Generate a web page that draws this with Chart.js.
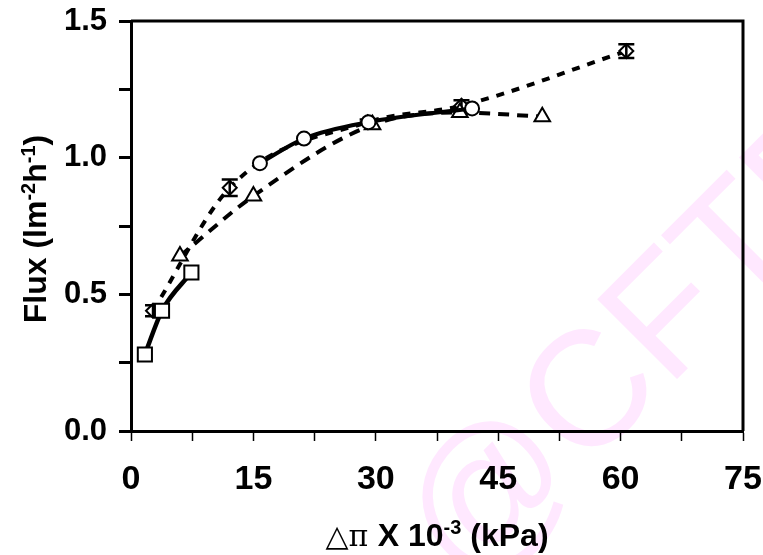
<!DOCTYPE html>
<html>
<head>
<meta charset="utf-8">
<script src="https://cdn.jsdelivr.net/npm/chart.js@4.4.0/dist/chart.umd.min.js"></script>
<style>
  html, body { margin: 0; padding: 0; background: #fff; }
</style>
</head>
<body>
<canvas id="flux" width="763" height="555"></canvas>
<script>
// flux vs osmotic pressure difference, four runs
const squareX = [1.7, 3.8, 7.4];
const squareY = [0.28, 0.44, 0.58];
const circleX = [15.8, 21.2, 29.1, 41.8];
const circleY = [0.98, 1.07, 1.13, 1.18];
const diamondX = [2.7, 12.1, 29.0, 40.5, 60.7];
const diamondY = [0.44, 0.89, 1.13, 1.19, 1.39];
const diamondErr = [0.02, 0.03, 0.01, 0.02, 0.025];
const triangleX = [6.0, 15.0, 29.6, 40.3, 50.4];
const triangleY = [0.64, 0.86, 1.12, 1.165, 1.15];

const xTicks = [0, 15, 30, 45, 60, 75];
const yTicks = [0.0, 0.5, 1.0, 1.5];

const BOLD = 'bold 32px "Liberation Sans", Arial, sans-serif';
const NARROW = '"Liberation Sans Narrow", "Liberation Sans", Arial, sans-serif';

function pts(xs, ys) {
  return xs.map((x, i) => ({ x: x, y: ys[i] }));
}

function series(xs, ys, style, radius, width, dash, order) {
  return {
    data: pts(xs, ys),
    order: order,
    showLine: true,
    cubicInterpolationMode: 'monotone',
    borderColor: '#000',
    borderWidth: width,
    borderDash: dash,
    pointStyle: style,
    pointRadius: radius,
    pointBorderWidth: 2,
    pointBorderColor: '#000',
    pointBackgroundColor: '#fff',
    clip: false
  };
}

// fixed axis box, no label overflow padding
function fixBox(w, h) {
  return s => {
    if (w) s.width = w;
    if (h) s.height = h;
    s.paddingLeft = s.paddingRight = s.paddingTop = s.paddingBottom = 0;
  };
}

// text made of pieces, some raised (superscripts)
function drawRuns(ctx, runs, cx, baseline) {
  let total = 0;
  runs.forEach(r => {
    ctx.font = r.font;
    r.w = ctx.measureText(r.text).width;
    total += r.w;
  });
  let x = cx - total / 2;
  runs.forEach(r => {
    ctx.font = r.font;
    ctx.fillText(r.text, x, baseline - (r.rise || 0));
    x += r.w;
  });
}

const watermark = {
  id: 'watermark',
  beforeDraw(chart) {
    const ctx = chart.ctx;
    ctx.save();
    ctx.translate(466, 590);
    ctx.rotate(-Math.PI / 4);
    ctx.fillStyle = '#ffe8ff';
    ctx.font = '164px "Liberation Sans", Arial, sans-serif';
    ctx.textBaseline = 'alphabetic';
    ctx.fillText('@CFTRI', 0, 0);
    ctx.restore();
  }
};

const frame = {
  id: 'frame',
  afterDraw(chart) {
    const { ctx, chartArea: a } = chart;
    ctx.save();
    ctx.strokeStyle = '#000';
    ctx.lineWidth = 3;
    ctx.beginPath();
    ctx.moveTo(a.left, a.top);
    ctx.lineTo(a.right, a.top);
    ctx.lineTo(a.right, a.bottom);
    ctx.stroke();
    ctx.restore();
  }
};

// error bars on the diamond run (dataset 2)
const errorBars = {
  id: 'errorBars',
  afterDatasetDraw(chart, args) {
    if (args.index !== 2) return;
    const ctx = chart.ctx;
    const xs = chart.scales.x, ys = chart.scales.y;
    ctx.save();
    ctx.strokeStyle = '#000';
    ctx.lineWidth = 2.5;
    diamondX.forEach((v, i) => {
      const px = xs.getPixelForValue(v);
      const top = ys.getPixelForValue(diamondY[i] + diamondErr[i]);
      const bot = ys.getPixelForValue(diamondY[i] - diamondErr[i]);
      ctx.beginPath();
      ctx.moveTo(px, top); ctx.lineTo(px, bot);
      ctx.moveTo(px - 8, top); ctx.lineTo(px + 8, top);
      ctx.moveTo(px - 8, bot); ctx.lineTo(px + 8, bot);
      ctx.stroke();
    });
    ctx.restore();
  }
};

const axisTitles = {
  id: 'axisTitles',
  afterDraw(chart) {
    const ctx = chart.ctx;
    ctx.save();
    ctx.fillStyle = '#000';
    ctx.textBaseline = 'alphabetic';
    const sup = 'bold 20px "Liberation Sans", Arial, sans-serif';
    ctx.translate(46, 229);
    ctx.rotate(-Math.PI / 2);
    drawRuns(ctx, [
      { text: 'Flux (lm', font: BOLD },
      { text: '-2', font: sup, rise: 11 },
      { text: 'h', font: BOLD },
      { text: '-1', font: sup, rise: 11 },
      { text: ')', font: BOLD }
    ], 0, 0);
    ctx.restore();

    ctx.save();
    ctx.fillStyle = '#000';
    drawRuns(ctx, [
      { text: '\u25B3', font: '30px "DejaVu Sans", sans-serif' },
      { text: '\u03C0 ', font: '30px "DejaVu Serif", serif' },
      { text: 'X 10', font: 'bold 32px ' + NARROW },
      { text: '-3', font: 'bold 20px ' + NARROW, rise: 12 },
      { text: ' (kPa)', font: 'bold 32px ' + NARROW }
    ], 437, 546);
    ctx.restore();
  }
};

new Chart(document.getElementById('flux'), {
  type: 'scatter',
  data: {
    datasets: [
      series(squareX, squareY, 'rect', 10, 4.5, [], 1),
      series(circleX, circleY, 'circle', 7, 4, [], 0),
      series(diamondX, diamondY, 'rectRot', 7, 4, [8, 8], 3),
      series(triangleX, triangleY, 'triangle', 9, 4, [11, 8], 2)
    ]
  },
  options: {
    responsive: false,
    animation: false,
    devicePixelRatio: 1,
    layout: { padding: { top: 21, right: 20, left: 0, bottom: 0 } },
    plugins: { legend: { display: false }, tooltip: { enabled: false } },
    scales: {
      x: {
        type: 'linear',
        min: 0,
        max: 75,
        afterFit: fixBox(0, 124),
        border: { display: true, color: '#000', width: 3 },
        grid: { drawOnChartArea: false, drawTicks: true, tickLength: 10, tickWidth: 1.5, tickColor: '#000' },
        ticks: {
          stepSize: 7.5,
          autoSkip: false,
          maxRotation: 0,
          padding: 18,
          color: '#000',
          font: { family: NARROW, weight: 'bold', size: 34 },
          callback: v => xTicks.some(t => Math.abs(t - v) < 1e-6) ? String(v) : ''
        }
      },
      y: {
        type: 'linear',
        min: 0,
        max: 1.5,
        afterFit: fixBox(131, 0),
        border: { display: true, color: '#000', width: 3 },
        grid: { drawOnChartArea: false, drawTicks: true, tickLength: 12, tickWidth: 3, tickColor: '#000' },
        ticks: {
          stepSize: 0.25,
          autoSkip: false,
          padding: 12,
          color: '#000',
          font: { family: '"Liberation Sans", Arial, sans-serif', weight: 'bold', size: 31 },
          callback: v => yTicks.some(t => Math.abs(t - v) < 1e-6) ? v.toFixed(1) : ''
        }
      }
    }
  },
  plugins: [watermark, frame, errorBars, axisTitles]
});
</script>
</body>
</html>
